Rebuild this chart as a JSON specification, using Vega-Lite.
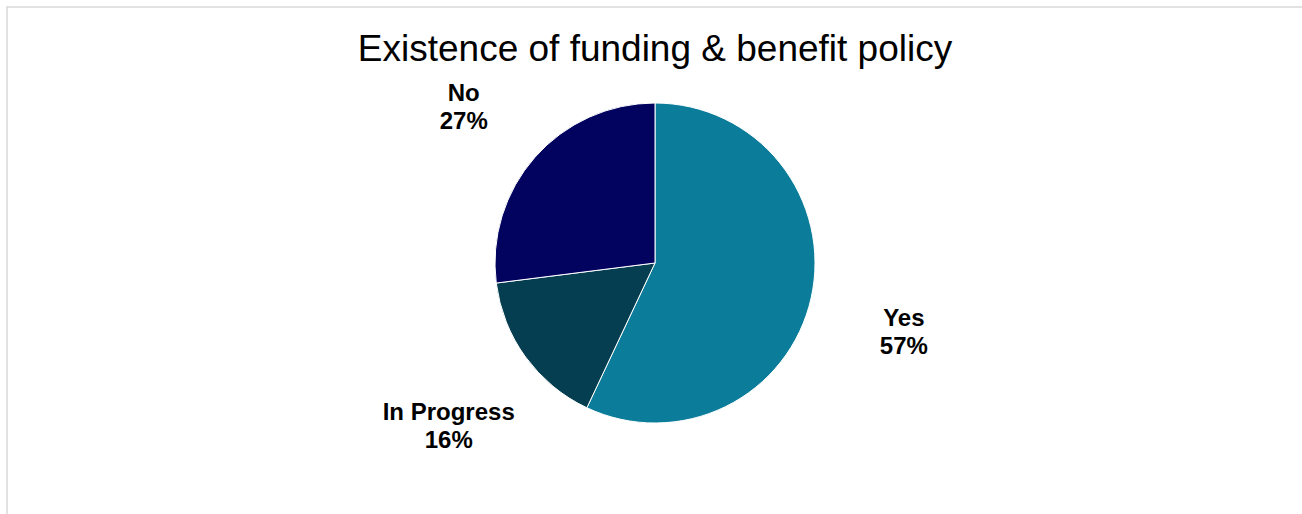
{
  "$schema": "https://vega.github.io/schema/vega-lite/v6.json",
  "width": 1296,
  "height": 512,
  "autosize": {"type": "none"},
  "padding": {"left": 7, "top": 7, "right": 0, "bottom": 0},
  "background": "white",
  "view": {"stroke": "#d9d9d9", "strokeWidth": 1.5, "fill": "white"},
  "title": {
    "text": "Existence of funding & benefit policy",
    "font": "Liberation Sans",
    "fontSize": 37,
    "fontWeight": "normal",
    "color": "#000000",
    "anchor": "middle",
    "baseline": "alphabetic",
    "offset": -91
  },
  "data": {
    "values": [
      {"category": "Yes", "value": 57, "idx": 1, "label": "Yes\n57%"},
      {"category": "In Progress", "value": 16, "idx": 2, "label": "In Progress\n16%"},
      {"category": "No", "value": 27, "idx": 3, "label": "No\n27%"}
    ]
  },
  "encoding": {
    "theta": {"field": "value", "type": "quantitative", "stack": true},
    "order": {"field": "idx", "type": "quantitative"}
  },
  "layer": [
    {
      "mark": {"type": "arc", "outerRadius": 160, "stroke": "#ffffff", "strokeWidth": 1},
      "encoding": {
        "color": {
          "field": "category",
          "type": "nominal",
          "scale": {"domain": ["Yes", "In Progress", "No"], "range": ["#0b7d9a", "#053e50", "#02025f"]},
          "legend": null
        }
      }
    },
    {
      "mark": {"type": "text", "radius": 255, "font": "Liberation Sans", "fontSize": 24, "fontWeight": "bold", "color": "#000000", "lineBreak": "\n", "align": "center", "baseline": "middle", "lineHeight": 28},
      "encoding": {
        "text": {"field": "label", "type": "nominal"}
      }
    }
  ]
}
